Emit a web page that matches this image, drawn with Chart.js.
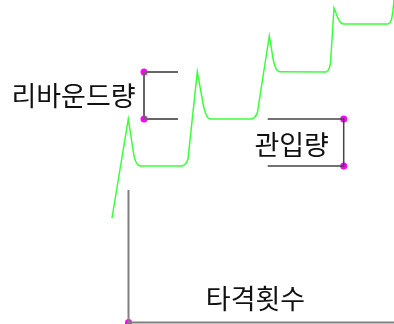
<!DOCTYPE html>
<html>
<head>
<meta charset="utf-8">
<script src="https://cdn.jsdelivr.net/npm/chart.js@4"></script>
<style>
  html, body { margin: 0; padding: 0; background: #fff; }
  #wrap { width: 394px; height: 324px; }
</style>
</head>
<body>
<div id="wrap"><canvas id="pileChart"></canvas></div>
<script>
// pile driving record: blows (x) against pile head height (y)
const curveX = [-16.5, -0.2, 5.5, 7, 9, 11.5, 53.5, 56, 58, 59.5,
  68.8, 75, 77, 79, 81.5, 123, 125.5, 127.5, 129,
  140.8, 145, 146.5, 148.5, 151, 197.5, 199.5, 201, 202,
  205.5, 207.5, 209.5, 212, 214.5, 259.5, 261.5, 263, 264.2, 266.5];
const curveY = [104.5, 203.5, 166.5, 161.5, 158, 156.5, 156.5, 157.5, 160, 163.5,
  250.8, 216.5, 209.5, 205.2, 203.5, 203.5, 204.5, 207, 210.5,
  286.5, 261.5, 256, 252.2, 250.7, 250.5, 252, 255, 259.5,
  314.5, 309.5, 304, 300, 298.5, 298.5, 300, 303, 309.5, 332.5];

// axes
const axisX = [0, 0, 266];
const axisY = [132.5, 0, 0];

// rebound bracket
const reboundX = [49.5, 15.5, 15.5, 49.5];
const reboundY = [250.5, 250.5, 203.5, 203.5];

// penetration bracket
const penetX = [139.2, 215.2, 215.2, 139.2];
const penetY = [203.5, 203.5, 156.5, 156.5];

// marker points
const markX = [0, 15.5, 15.5, 215.2, 215.2];
const markY = [0, 250.5, 203.5, 203.5, 156.5];

// labels
const labelText = ["리바운드량", "관입량", "타격횟수"];
const labelX = [-55, 163.2, 127];
const labelY = [226.5, 177.5, 23.5];

const toPts = (xs, ys) => xs.map((x, i) => ({ x: x, y: ys[i] }));

const textPlugin = {
  id: "labels",
  afterDatasetsDraw(chart) {
    const ctx = chart.ctx;
    const sx = chart.scales.x, sy = chart.scales.y;
    ctx.save();
    ctx.font = '27px "Noto Sans CJK KR"';
    ctx.fillStyle = "#111";
    ctx.textAlign = "center";
    ctx.textBaseline = "middle";
    labelText.forEach((t, i) => {
      ctx.fillText(t, sx.getPixelForValue(labelX[i]), sy.getPixelForValue(labelY[i]));
    });
    ctx.restore();
  }
};

const lineSet = (data, color, width) => ({
  data: data,
  showLine: true,
  borderColor: color,
  borderWidth: width,
  pointRadius: 0,
  tension: 0,
  fill: false,
  clip: false
});

new Chart(document.getElementById("pileChart"), {
  type: "scatter",
  data: {
    datasets: [
      lineSet(toPts(axisX, axisY), "#808080", 2),
      lineSet(toPts(reboundX, reboundY), "#666666", 2),
      lineSet(toPts(penetX, penetY), "#444444", 1.5),
      lineSet(toPts(curveX, curveY), "#3cff3c", 1.5),
      {
        data: toPts(markX, markY),
        pointRadius: 3.5,
        pointBackgroundColor: "#ff00ff",
        pointBorderWidth: 0,
        showLine: false,
        clip: false
      }
    ]
  },
  options: {
    responsive: true,
    maintainAspectRatio: false,
    animation: false,
    layout: { padding: 0, autoPadding: false },
    plugins: { legend: { display: false }, tooltip: { enabled: false } },
    scales: {
      x: { type: "linear", min: -128.5, max: 265.5, display: false },
      y: { type: "linear", min: -1.5, max: 322.5, display: false }
    }
  },
  plugins: [textPlugin]
});
</script>
</body>
</html>
